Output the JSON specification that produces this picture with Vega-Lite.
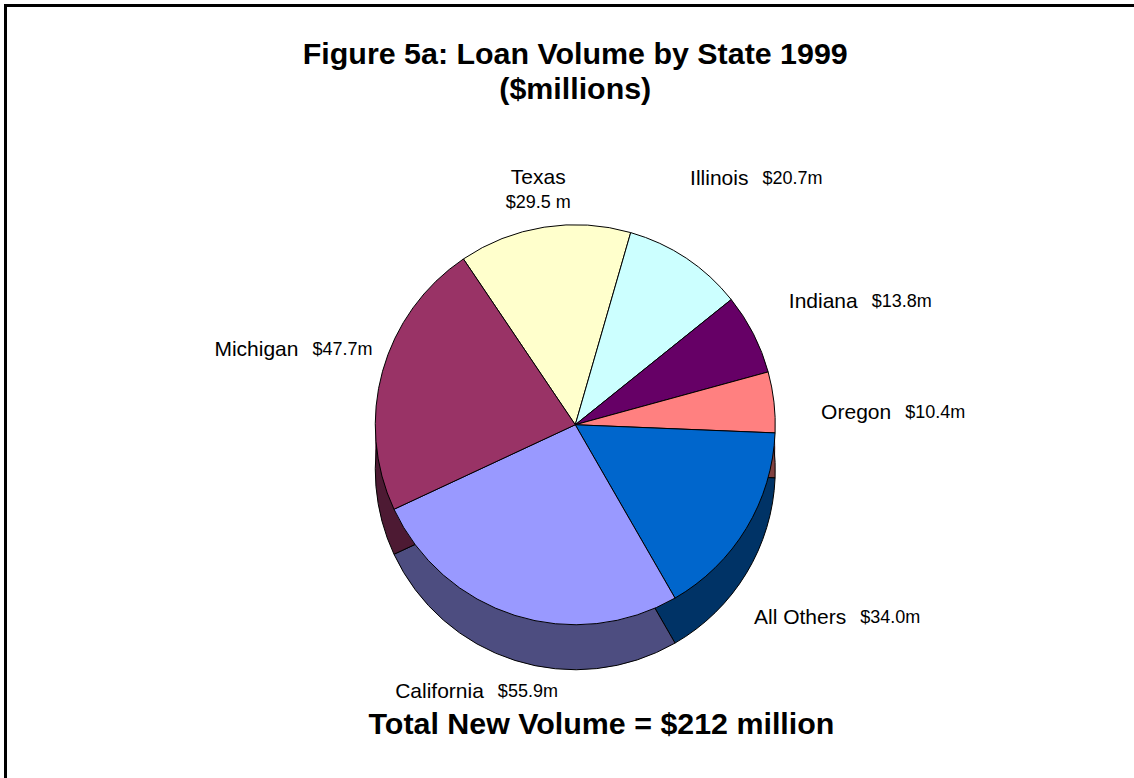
{
  "$schema": "https://vega.github.io/schema/vega-lite/v6.json",
  "width": 1128.5,
  "height": 772.5,
  "autosize": "none",
  "padding": {"left": 5.5, "top": 5.5, "right": 0, "bottom": 0},
  "background": "white",
  "view": {"stroke": "black", "strokeWidth": 3, "fill": null, "strokeDash": [1128.5, 1901, 790], "strokeCap": "square"},
  "config": {"font": "Liberation Sans"},
  "title": {
    "text": ["Figure 5a: Loan Volume by State 1999", "($millions)"],
    "subtitle": "\u2800\u2800\u00a0Total New Volume = $212 million",
    "orient": "top",
    "anchor": "middle",
    "frame": "group",
    "offset": -734.5,
    "dx": 5.5,
    "font": "Liberation Sans",
    "fontSize": 30.4,
    "fontWeight": "bold",
    "color": "black",
    "lineHeight": 35,
    "subtitleFont": "Liberation Sans",
    "subtitleFontSize": 30.4,
    "subtitleFontWeight": "bold",
    "subtitleColor": "black",
    "subtitlePadding": 604
  },
  "data": {
    "values": [
      {"state": "Texas", "volume": 29.5, "label": "$29.5 m"},
      {"state": "Illinois", "volume": 20.7, "label": "$20.7m"},
      {"state": "Indiana", "volume": 13.8, "label": "$13.8m"},
      {"state": "Oregon", "volume": 10.4, "label": "$10.4m"},
      {"state": "All Others", "volume": 34.0, "label": "$34.0m"},
      {"state": "California", "volume": 55.9, "label": "$55.9m"},
      {"state": "Michigan", "volume": 47.7, "label": "$47.7m"}
    ]
  },
  "transform": [{"window": [{"op": "row_number", "as": "seq"}]}],
  "encoding": {
    "theta": {"field": "volume", "type": "quantitative", "stack": true, "scale": {"range": [-0.5934, 5.6898]}},
    "order": {"field": "seq", "type": "quantitative"}
  },
  "layer": [
    {
      "mark": {"type": "arc", "outerRadius": 200, "xOffset": 5.5, "yOffset": 55},
      "encoding": {
        "fill": {"field": "state", "type": "nominal", "legend": null,
          "scale": {"domain": ["Texas", "Illinois", "Indiana", "Oregon", "All Others", "California", "Michigan"],
                    "range": ["#808066", "#668080", "#330033", "#804040", "#003366", "#4D4D80", "#4D1A33"]}}
      }
    },
    {
      "mark": {"type": "arc", "outerRadius": 200, "xOffset": 5.5, "yOffset": 78, "stroke": "black", "strokeWidth": 1},
      "encoding": {
        "fill": {"field": "state", "type": "nominal", "legend": null}
      }
    },
    {
      "mark": {"type": "arc", "outerRadius": 200, "xOffset": 5.5, "yOffset": 33, "stroke": "black", "strokeWidth": 1},
      "encoding": {
        "color": {"field": "state", "type": "nominal", "legend": null,
          "scale": {"domain": ["Texas", "Illinois", "Indiana", "Oregon", "All Others", "California", "Michigan"],
                    "range": ["#FFFFCC", "#CCFFFF", "#660066", "#FF8080", "#0066CC", "#9999FF", "#993366"]}}
      }
    },
    {
      "mark": {"type": "text", "radius": 238, "xOffset": 5.5, "yOffset": 33, "dy": -12, "fontSize": 21, "align": "center", "baseline": "middle"},
      "encoding": {
        "detail": {"field": "state", "type": "nominal"},
        "text": {"condition": {"test": "datum.state == 'Texas'", "field": "state", "type": "nominal"}, "value": ""}
      }
    },
    {
      "mark": {"type": "text", "radius": 238, "xOffset": 5.5, "yOffset": 33, "dy": 13, "fontSize": 18, "align": "center", "baseline": "middle"},
      "encoding": {
        "detail": {"field": "state", "type": "nominal"},
        "text": {"condition": {"test": "datum.state == 'Texas'", "field": "label", "type": "nominal"}, "value": ""}
      }
    },
    {
      "mark": {"type": "text", "radius": 325, "xOffset": 5.5, "yOffset": 58, "dx": -7, "fontSize": 21, "align": "right", "baseline": "middle"},
      "encoding": {
        "detail": {"field": "state", "type": "nominal"},
        "text": {"condition": {"test": "indexof(['Illinois','Indiana','Oregon','All Others'], datum.state) >= 0", "field": "state", "type": "nominal"}, "value": ""}
      }
    },
    {
      "mark": {"type": "text", "radius": 325, "xOffset": 5.5, "yOffset": 58, "dx": 7, "fontSize": 18, "align": "left", "baseline": "middle"},
      "encoding": {
        "detail": {"field": "state", "type": "nominal"},
        "text": {"condition": {"test": "indexof(['Illinois','Indiana','Oregon','All Others'], datum.state) >= 0", "field": "label", "type": "nominal"}, "value": ""}
      }
    },
    {
      "mark": {"type": "text", "radius": 280, "xOffset": 5.5, "yOffset": 33, "dx": -7, "fontSize": 21, "align": "right", "baseline": "middle"},
      "encoding": {
        "detail": {"field": "state", "type": "nominal"},
        "text": {"condition": {"test": "indexof(['California','Michigan'], datum.state) >= 0", "field": "state", "type": "nominal"}, "value": ""}
      }
    },
    {
      "mark": {"type": "text", "radius": 280, "xOffset": 5.5, "yOffset": 33, "dx": 7, "fontSize": 18, "align": "left", "baseline": "middle"},
      "encoding": {
        "detail": {"field": "state", "type": "nominal"},
        "text": {"condition": {"test": "indexof(['California','Michigan'], datum.state) >= 0", "field": "label", "type": "nominal"}, "value": ""}
      }
    }
  ]
}
